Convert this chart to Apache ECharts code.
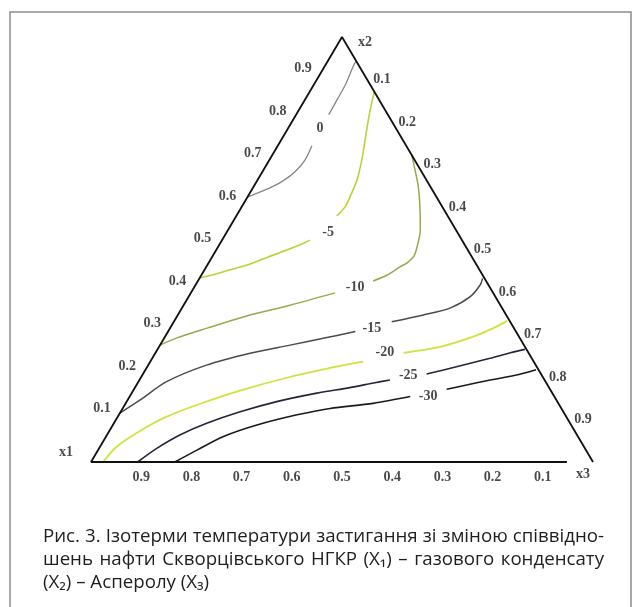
<!DOCTYPE html>
<html>
<head>
<meta charset="utf-8">
<script src="https://cdn.jsdelivr.net/npm/echarts@6/dist/echarts.min.js"></script>
<style>
  html, body { margin: 0; padding: 0; background: #ffffff; }
  #chart { width: 640px; height: 607px; }
</style>
</head>
<body>
<div id="chart"></div>
<script>
// Ternary composition x1 + x2 + x3 = 1; points are stored as [x2, x3].
const VERTEX_NAMES = ['x1', 'x2', 'x3'];
const TICK_VALUES = [0.1, 0.2, 0.3, 0.4, 0.5, 0.6, 0.7, 0.8, 0.9];
const TICK_LABELS = ['0.1', '0.2', '0.3', '0.4', '0.5', '0.6', '0.7', '0.8', '0.9'];

// Isotherm levels (pour point, °C)
const LEVELS = [0, -5, -10, -15, -20, -25, -30];

// Isotherm paths as [x2, x3]; null marks the break left for the level label
const ISO_0 = [[0.624, 0], [0.634, 0.017], [0.645, 0.034], [0.662, 0.052], [0.683, 0.065], [0.711, 0.071], [0.744, 0.068], null,
  [0.817, 0.065], [0.852, 0.064], [0.887, 0.063], [0.930, 0.057], [0.944, 0.056]];
const ISO_M5 = [[0.433, 0], [0.442, 0.026], [0.454, 0.056], [0.466, 0.084], [0.482, 0.111], [0.497, 0.138], [0.511, 0.161], [0.522, 0.175], null,
  [0.579, 0.200], [0.601, 0.206], [0.632, 0.203], [0.664, 0.198], [0.711, 0.184], [0.758, 0.167], [0.805, 0.150], [0.844, 0.137], [0.871, 0.129]];
const ISO_M10 = [[0.275, 0], [0.292, 0.025], [0.315, 0.074], [0.346, 0.144], [0.369, 0.212], [0.398, 0.287], null,
  [0.426, 0.349], [0.440, 0.370], [0.459, 0.386], [0.468, 0.395], [0.485, 0.401], [0.515, 0.394], [0.546, 0.383], [0.593, 0.359], [0.648, 0.328], [0.687, 0.302], [0.722, 0.278]];
const ISO_M15 = [[0.115, 0], [0.146, 0.025], [0.189, 0.056], [0.228, 0.116], [0.256, 0.189], [0.275, 0.259], [0.291, 0.317], [0.307, 0.373], null,
  [0.330, 0.434], [0.346, 0.489], [0.362, 0.534], [0.389, 0.561], [0.417, 0.567], [0.432, 0.564]];
const ISO_M20 = [[0, 0.024], [0.036, 0.033], [0.073, 0.061], [0.105, 0.095], [0.137, 0.149], [0.168, 0.213], [0.200, 0.296], [0.226, 0.383], [0.236, 0.424], null,
  [0.257, 0.494], [0.271, 0.560], [0.295, 0.614], [0.315, 0.644], [0.332, 0.663]];
const ISO_M25 = [[0, 0.093], [0.032, 0.115], [0.064, 0.146], [0.091, 0.185], [0.118, 0.238], [0.142, 0.299], [0.162, 0.369], [0.175, 0.428], [0.186, 0.470], [0.193, 0.499], null,
  [0.207, 0.565], [0.224, 0.616], [0.244, 0.673], [0.257, 0.707], [0.265, 0.732]];
const ISO_M30 = [[0, 0.167], [0.028, 0.197], [0.060, 0.234], [0.087, 0.287], [0.111, 0.355], [0.126, 0.413], [0.138, 0.493], [0.154, 0.559], null,
  [0.171, 0.623], [0.189, 0.684], [0.204, 0.743], [0.217, 0.778]];

const ISOTHERMS = [ISO_0, ISO_M5, ISO_M10, ISO_M15, ISO_M20, ISO_M25, ISO_M30];

// Where each level's label sits, [x2, x3]
const LEVEL_LABEL_POS = [[0.786, 0.063], [0.541, 0.202], [0.412, 0.320], [0.315, 0.402], [0.259, 0.456], [0.204, 0.530], [0.155, 0.594]];

// Bottom side is drawn up to this x3 value
const BASE_END_X3 = 0.948;

const ISO_COLORS = ['#858585', '#b6d436', '#98a84c', '#4a4a4a', '#cde43c', '#24243c', '#1a1a1a'];
const ISO_WIDTHS = [1.3, 1.6, 1.5, 1.5, 1.8, 1.6, 1.6];

// [x2, x3] -> cartesian (x along the base, y up to the x2 apex)
function toXY(p) {
  return [p[1] + p[0] / 2, p[0]];
}

function splitSegments(path) {
  const segs = [];
  let cur = [];
  path.forEach(function (p) {
    if (p === null) { if (cur.length) segs.push(cur); cur = []; }
    else cur.push(toXY(p));
  });
  if (cur.length) segs.push(cur);
  return segs;
}

const SERIF = '"Liberation Serif", "DejaVu Serif", serif';
const LABEL_SIZE = 14;
const series = [];

// Triangle sides
series.push({
  type: 'line', silent: true, symbol: 'none', z: 5,
  lineStyle: { color: '#111', width: 1.8 },
  data: [toXY([0, BASE_END_X3]), toXY([0, 0]), toXY([1, 0]), toXY([0, 1])]
});

// Isotherms
ISOTHERMS.forEach(function (path, i) {
  splitSegments(path).forEach(function (seg) {
    series.push({
      type: 'line', silent: true, symbol: 'none', smooth: 0.3, z: 3,
      lineStyle: { color: ISO_COLORS[i], width: ISO_WIDTHS[i] },
      data: seg
    });
  });
});

// Level labels
series.push({
  type: 'scatter', silent: true, symbolSize: 0, z: 6,
  label: {
    show: true, position: 'inside', color: '#1a1a1a',
    fontFamily: SERIF, fontSize: LABEL_SIZE, fontWeight: 'bold',
    formatter: function (d) { return String(LEVELS[d.dataIndex]); }
  },
  data: LEVEL_LABEL_POS.map(toXY)
});

function tickSeries(points, offset) {
  return {
    type: 'scatter', silent: true, symbolSize: 0, z: 6,
    label: {
      show: true, position: 'inside', offset: offset, align: 'center',
      color: '#1a1a1a', fontFamily: SERIF, fontSize: LABEL_SIZE, fontWeight: 'bold',
      formatter: function (d) { return TICK_LABELS[d.dataIndex]; }
    },
    data: points
  };
}

// x2 scale on the left side, x3 on the right side, x1 along the base
series.push(tickSeries(TICK_VALUES.map(function (v) { return toXY([v, 0]); }), [-14, -11]));
series.push(tickSeries(TICK_VALUES.map(function (v) { return toXY([1 - v, v]); }), [15, 0]));
series.push(tickSeries(TICK_VALUES.map(function (v) { return toXY([0, 1 - v]); }), [0, 15]));

// Vertex names
const VERTEX_POINTS = [[0, 0], [1, 0], [0, 1]];
const VERTEX_OFFSETS = [[-25, -10], [23, 5], [-10, 12]];
series.push({
  type: 'scatter', silent: true, symbolSize: 0, z: 6,
  data: VERTEX_POINTS.map(function (p, i) {
    return {
      value: toXY(p),
      label: {
        show: true, position: 'inside', offset: VERTEX_OFFSETS[i],
        color: '#1a1a1a', fontFamily: SERIF, fontSize: LABEL_SIZE, fontWeight: 'bold',
        formatter: VERTEX_NAMES[i]
      }
    };
  })
});

// Figure caption, justified except for its last line
const CAPTION = [
  'Рис. 3. Ізотерми температури застигання зі зміною співвідно-',
  'шень нафти Скворцівського НГКР (X₁) – газового конденсату',
  '(X₂) – Асперолу (X₃)'
];
const CAPTION_Y = [537, 560, 583];
const CAPTION_LEFT = 43;
const CAPTION_WIDTH = 561;
const CAPTION_FONT = '18.7px "Open Sans", "Noto Sans", sans-serif';

const measureCtx = document.createElement('canvas').getContext('2d');
measureCtx.font = CAPTION_FONT;

function captionElements() {
  const els = [];
  CAPTION.forEach(function (line, li) {
    const justify = li < CAPTION.length - 1;
    const words = line.split(' ');
    const widths = words.map(function (w) { return measureCtx.measureText(w).width; });
    const total = widths.reduce(function (a, b) { return a + b; }, 0);
    const gap = justify ? (CAPTION_WIDTH - total) / (words.length - 1) : measureCtx.measureText(' ').width;
    let x = CAPTION_LEFT;
    words.forEach(function (w, wi) {
      els.push({
        type: 'text', silent: true, z: 10, x: x, y: CAPTION_Y[li],
        style: { text: w, fill: '#1e1e1e', font: CAPTION_FONT, textVerticalAlign: 'middle', verticalAlign: 'middle' }
      });
      x += widths[wi] + gap;
    });
  });
  return els;
}

const chart = echarts.init(document.getElementById('chart'), null, { renderer: 'canvas' });
chart.setOption({
  animation: false,
  backgroundColor: '#ffffff',
  grid: { left: 91, top: 37, width: 502, height: 425 },
  xAxis: { type: 'value', min: 0, max: 1, show: false },
  yAxis: { type: 'value', min: 0, max: 1, show: false },
  series: series,
  graphic: [
    {
      type: 'rect', silent: true, z: 1,
      shape: { x: 10, y: 12, width: 621, height: 620 },
      style: { fill: 'none', stroke: '#8c8c8c', lineWidth: 1.5 }
    }
  ].concat(captionElements())
});
</script>
</body>
</html>
